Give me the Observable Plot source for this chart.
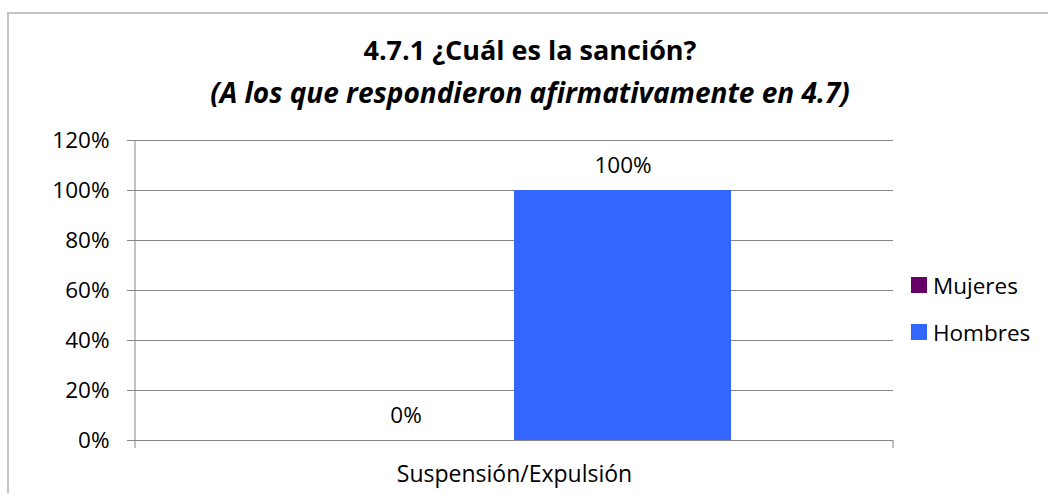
<!DOCTYPE html>
<html>
<head>
<meta charset="utf-8">
<script src="https://cdn.jsdelivr.net/npm/d3@7"></script>
<script src="https://cdn.jsdelivr.net/npm/@observablehq/plot@0.6"></script>
<style>
  html, body { margin: 0; padding: 0; background: #fff; }
  body { width: 1048px; height: 493px; position: relative; overflow: hidden; font-family: "Open Sans", sans-serif; }
  #frame { position: absolute; left: 7px; top: 12px; width: 1100px; height: 600px; border-left: 2px solid #c4c4c4; border-top: 2px solid #c4c4c4; }
  #title { position: absolute; left: 0; width: 1060px; top: 32px; text-align: center; font-weight: bold; font-size: 27px; line-height: 36px; color: #000; white-space: nowrap; }
  #subtitle { position: absolute; left: 0; width: 1060px; top: 74px; text-align: center; font-weight: bold; font-style: italic; font-size: 28px; line-height: 36px; color: #000; white-space: nowrap; }
  #chart { position: absolute; left: 0; top: 0; }
  #legend { position: absolute; left: 911px; top: 271px; font-size: 22.5px; color: #000; }
  .item { display: flex; align-items: center; height: 28px; margin-bottom: 19px; }
  .sw { width: 16px; height: 16px; margin-right: 6px; }
</style>
</head>
<body>
<div id="frame"></div>
<div id="title"></div>
<div id="subtitle"></div>
<div id="chart"></div>
<div id="legend"></div>
<script>
const titleText = "4.7.1 ¿Cuál es la sanción?";
const subtitleText = "(A los que respondieron afirmativamente en 4.7)";
const category = "Suspensión/Expulsión";
const series = ["Mujeres", "Hombres"];
const values = [0, 1.00];
const colors = ["#660066", "#3366FF"];
const yTicks = [0, 0.2, 0.4, 0.6, 0.8, 1.0, 1.2];

const data = series.map((s, i) => ({category, series: s, value: values[i]}));

document.getElementById("title").textContent = titleText;
document.getElementById("subtitle").textContent = subtitleText;

const pct = d3.format(".0%");

const edgeTicks = (index, scales, values, dims) => {
  const g = d3.create("svg:g");
  const y0 = dims.height - dims.marginBottom;
  [dims.marginLeft, dims.width - dims.marginRight].forEach(x => {
    g.append("line").attr("x1", x).attr("x2", x).attr("y1", y0).attr("y2", y0 + 8)
      .attr("stroke", "#868686").attr("stroke-width", 1);
  });
  g.append("line").attr("x1", dims.marginLeft).attr("x2", dims.marginLeft)
    .attr("y1", dims.marginTop).attr("y2", y0)
    .attr("stroke", "#868686").attr("stroke-width", 1);
  return g.node();
};

const plot = Plot.plot({
  width: 1048,
  height: 493,
  marginLeft: 135,
  marginRight: 155,
  marginTop: 140,
  marginBottom: 53,
  style: { fontFamily: "Open Sans, sans-serif", fontSize: "22px", color: "#000", background: "transparent", overflow: "visible" },
  x: { domain: series, paddingInner: 0, paddingOuter: 0.7465, axis: null },
  y: { domain: [0, 1.2], ticks: yTicks, tickFormat: pct, label: null },
  color: { domain: series, range: colors },
  marks: [
    Plot.gridY(yTicks, { stroke: "#868686", strokeOpacity: 1 }),
    Plot.axisY(yTicks, { tickFormat: pct, tickSize: 8, tickPadding: 18, stroke: "#868686", fontSize: 22.5, fill: "#000", label: null }),
    Plot.barY(data, { x: "series", y: "value", fill: "series" }),
    Plot.text(data, { x: "series", y: "value", text: d => pct(d.value), dy: -25, fontSize: 22.5, fill: "#000", lineAnchor: "middle" }),
    Plot.text([category], { frameAnchor: "bottom", text: d => d, dy: 34, fontSize: 23, fill: "#000", lineAnchor: "middle" }),
    edgeTicks
  ]
});
document.getElementById("chart").appendChild(plot);

const legend = document.getElementById("legend");
series.forEach((s, i) => {
  const item = document.createElement("div");
  item.className = "item";
  const sw = document.createElement("span");
  sw.className = "sw";
  sw.style.background = colors[i];
  const t = document.createElement("span");
  t.textContent = s;
  item.appendChild(sw); item.appendChild(t);
  legend.appendChild(item);
});
</script>
</body>
</html>
